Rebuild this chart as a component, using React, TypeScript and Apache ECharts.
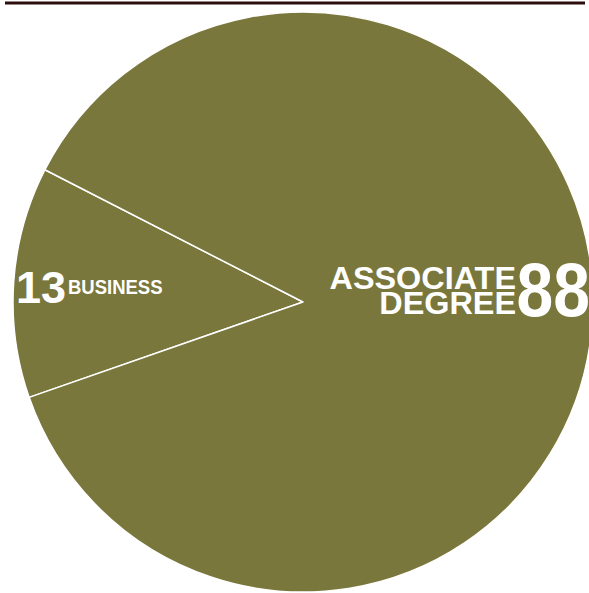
import React, { useEffect, useRef } from "react";
import * as echarts from "echarts";

const categories = ["BUSINESS", "ASSOCIATE DEGREE"];
const values = [13, 88];
const sliceColor = "#7a773c";
const FONT = "Liberation Sans, Arial, Helvetica, sans-serif";

export default function App() {
  const ref = useRef<HTMLDivElement>(null);
  useEffect(() => {
    if (!ref.current) return;
    const chart = echarts.init(ref.current, null, { renderer: "svg" });
    const data = categories.map((name, i) => ({ name, value: values[i] }));
    const assocLines = categories[1].split(" ");
    chart.setOption({
      animation: false,
      backgroundColor: "#ffffff",
      series: [
        {
          type: "pie",
          center: [303, 302],
          radius: 290,
          startAngle: 199.2,
          clockwise: true,
          silent: true,
          z: 2,
          label: { show: false },
          labelLine: { show: false },
          emphasis: { disabled: true },
          itemStyle: { color: sliceColor, borderColor: "#ffffff", borderWidth: 1.5 },
          data,
        },
      ],
      graphic: [
        {
          type: "line",
          z: 100,
          shape: { x1: 5, y1: 3, x2: 585, y2: 3 },
          style: { stroke: "#2d0e0e", lineWidth: 3 },
          silent: true,
        },
        {
          type: "text",
          z: 100,
          x: 16,
          y: 287,
          style: {
            text: String(values[0]),
            fill: "#ffffff",
            font: `bold 45px ${FONT}`,
            align: "left",
            verticalAlign: "middle",
          },
        },
        {
          type: "text",
          z: 100,
          x: 68,
          y: 287,
          scaleY: 1.05,
          style: {
            text: categories[0],
            fill: "#ffffff",
            font: `bold 18.5px ${FONT}`,
            align: "left",
            verticalAlign: "middle",
          },
        },
        ...assocLines.map((t, i) => ({
          type: "text",
          z: 100,
          x: 516,
          y: 278 + i * 25.5,
          scaleX: 1.045,
          style: {
            text: t,
            fill: "#ffffff",
            font: `bold 31px ${FONT}`,
            lineHeight: 25,
            align: "right",
            verticalAlign: "middle",
          },
        })),
        {
          type: "text",
          z: 100,
          x: 590,
          y: 290,
          scaleY: 1.14,
          style: {
            text: String(values[1]),
            fill: "#ffffff",
            font: `bold 66px ${FONT}`,
            align: "right",
            verticalAlign: "middle",
          },
        },
      ],
    });
    return () => chart.dispose();
  }, []);
  return (
    <div
      ref={ref}
      style={{ position: "absolute", left: 0, top: 0, width: 589, height: 593 }}
    />
  );
}
